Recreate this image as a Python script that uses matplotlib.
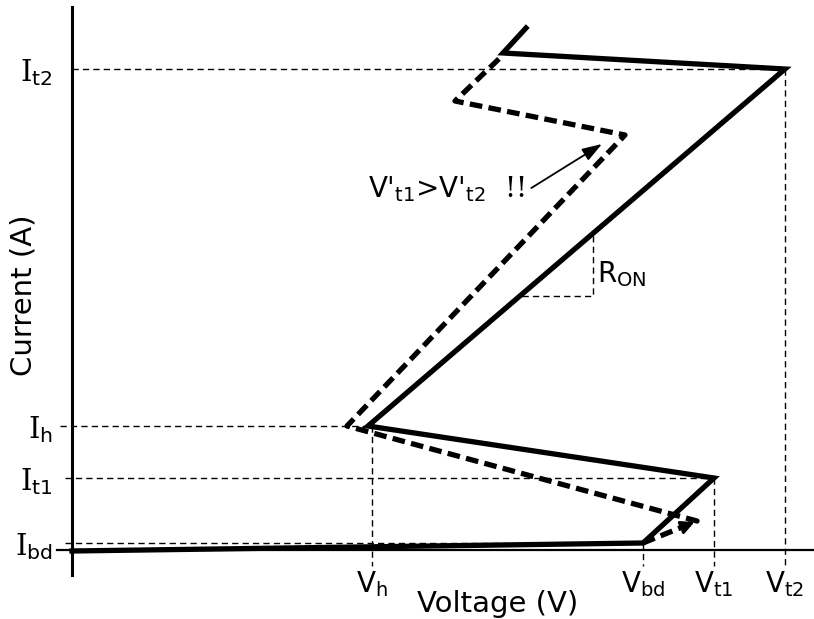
import matplotlib.pyplot as plt
import numpy as np

plt.rcParams['font.family'] = 'DejaVu Sans'
plt.rcParams['mathtext.fontset'] = 'dejavuserif'

# characteristic points (arbitrary units)
V_h, V_bd, V_t1, V_t2 = 3.0, 5.71, 6.42, 7.13
I_bd, I_t1, I_h, I_t2 = 0.07, 0.72, 1.24, 4.81

# solid snapback curve
v_solid = [0.0, V_bd, V_t1, V_h - 0.04, V_t2, 4.31, 4.54]
i_solid = [-0.01, I_bd, I_t1, I_h, I_t2, 4.97, 5.22]

# dashed curve (V't1 > V't2)
v_dash = [V_bd, 6.25, 2.75, 5.53, 3.83, 4.31]
i_dash = [I_bd, 0.29, I_h, 4.15, 4.49, 4.95]

# R_ON triangle on the ON branch
v_ron = [4.50, 5.21]

x_ticks = [V_h, V_bd, V_t1, V_t2]
x_labels = [r'$\mathsf{V}_{\mathsf{h}}$', r'$\mathsf{V}_{\mathsf{bd}}$',
            r'$\mathsf{V}_{\mathsf{t1}}$', r'$\mathsf{V}_{\mathsf{t2}}$']
y_ticks = [I_bd, I_t1, I_h, I_t2]
y_labels = [r'$\mathrm{I}_{\mathsf{bd}}$', r'$\mathrm{I}_{\mathsf{t1}}$',
            r'$\mathrm{I}_{\mathsf{h}}$', r'$\mathrm{I}_{\mathsf{t2}}$']

fig = plt.figure(figsize=(8.14, 6.19), dpi=100)
ax = fig.add_axes([72/814, 44/619, 742/814, 568/619])
ax.set_xlim(0, 7.42)
ax.set_ylim(-0.25, 5.43)
for s in ['top', 'right', 'bottom']:
    ax.spines[s].set_visible(False)
ax.spines['left'].set_linewidth(2.2)

# horizontal axis line
ax.plot([-0.15, 7.42], [0, 0], color='k', lw=1.6, clip_on=False)

thin = dict(color='k', lw=1.0, linestyle=(0, (4.5, 3)), clip_on=False)
# guide lines
ax.plot([0, V_t2], [I_t2, I_t2], **thin)
ax.plot([-0.12, V_h], [I_h, I_h], **thin)
ax.plot([-0.07, V_t1], [I_t1, I_t1], **thin)
ax.plot([-0.07, V_bd], [I_bd, I_bd], **thin)
for v, i in zip(x_ticks, [I_h, I_bd, I_t1, I_t2]):
    ax.plot([v, v], [i, -0.16], **thin)

# R_ON
i_on = np.interp(v_ron, [V_h, V_t2], [I_h, I_t2])
ax.plot([v_ron[0], v_ron[1], v_ron[1]], [i_on[0], i_on[0], i_on[1]], **thin)
ax.text(v_ron[1] + 0.04, i_on[0] + 0.22, r'$\mathsf{R}_{\mathsf{ON}}$',
        fontsize=20, va='center', ha='left')

# curves
ax.plot(v_solid, i_solid, color='k', lw=3.8, solid_joinstyle='miter', clip_on=False)
ax.plot(v_dash, i_dash, color='k', lw=3.8, linestyle=(0, (2.4, 1.2)))
ax.annotate('', xy=(v_dash[1], i_dash[1]),
            xytext=(v_dash[1] - 0.12, i_dash[1] - 0.05),
            arrowprops=dict(arrowstyle='-|>,head_length=0.8,head_width=0.4',
                            color='k', lw=2))

# annotation
ax.annotate(r"$\mathsf{V}\text{'}_{\mathsf{t1}}\text{>}\mathsf{V}\text{'}_{\mathsf{t2}}\text{  !!}$",
            xy=(5.30, 4.06), xytext=(4.53, 3.61), fontsize=20,
            ha='right', va='center',
            arrowprops=dict(arrowstyle='-|>,head_length=0.6,head_width=0.2',
                            color='k', lw=1.3, relpos=(1, 0.4),
                            shrinkA=3, shrinkB=0))

ax.set_xticks(x_ticks)
ax.set_xticklabels(x_labels, fontsize=20)
ax.set_yticks(y_ticks)
ax.set_yticklabels(y_labels, fontsize=21)
ax.tick_params(axis='x', length=0, pad=-4)
ax.tick_params(axis='y', length=0, pad=14)

ax.set_xlabel('Voltage (V)', fontsize=21)
ax.xaxis.set_label_coords(0.573, -0.026)
ax.set_ylabel('Current (A)', fontsize=21)
ax.yaxis.set_label_coords(-0.047, 0.493)

fig.savefig('out.png', dpi=100)
